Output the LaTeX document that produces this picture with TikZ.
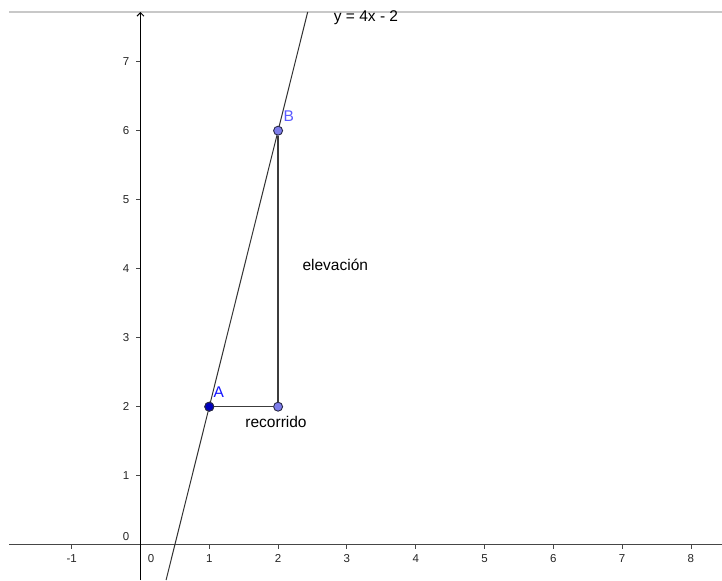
\documentclass[tikz,border=0pt]{standalone}
\usepackage{fontspec}
\setmainfont{Liberation Sans}
\usetikzlibrary{arrows.meta}
\definecolor{axisgray}{RGB}{70,70,70}
\definecolor{framegray}{RGB}{200,200,200}
\definecolor{lightpt}{RGB}{125,125,235}
\definecolor{darkpt}{RGB}{0,0,190}
\definecolor{ptedge}{RGB}{40,40,70}
\definecolor{labA}{RGB}{20,20,255}
\definecolor{labB}{RGB}{90,90,255}
\definecolor{segcol}{RGB}{60,60,60}
\tikzset{
  ticklab/.style={font=\fontsize{11.5}{13}\selectfont, text=black!85, inner sep=0pt},
  lab/.style={font=\fontsize{15.5}{18}\selectfont, inner sep=0pt},
  pt/.style={circle, draw=ptedge, line width=0.9pt, minimum size=9pt, inner sep=0pt},
  tickmark/.style={axisgray, line width=0.8pt},
  seg/.style={segcol, line width=1.4pt}
}
\begin{document}
\begin{tikzpicture}[x=68.8pt,y=69pt]
\useasboundingbox[fill=white] (-2.042,-0.512) rectangle (8.452,7.894);
% top frame line
\coordinate (fl) at (-1.91,7.72);
\coordinate (fr) at (8.452,7.72);
\draw[framegray, line width=1.6pt] (fl) -- (fr);
% axes
\coordinate (xl) at (-1.91,0);
\coordinate (xr) at (8.452,0);
\coordinate (yb) at (0,-0.512);
\coordinate (yt) at (0,7.72);
\draw[axisgray, line width=1.3pt] (xl) -- (xr);
\draw[black, line width=1pt, -{Straight Barb[length=3.5pt,width=7pt]}] (yb) -- (yt);
% ticks x
\foreach \i in {-1,1,2,3,4,5,6,7,8} {
  \coordinate (tx\i) at (\i,0);
  \draw[tickmark] (tx\i) -- ++(0,-4pt);
  \node[ticklab] (lx\i) at (\i,-0.207) {\i};
}
\foreach \i in {1,...,7} {
  \coordinate (ty\i) at (0,\i);
  \draw[tickmark] (ty\i) -- ++(-4pt,0);
  \node[ticklab] (ly\i) at (-0.211,\i) {\i};
}
\node[ticklab] (lx0) at (0.153,-0.2) {0};
\node[ticklab] (ly0) at (-0.211,0.112) {0};
% line y = 4x - 2
\coordinate (L1) at (0.372,-0.512);
\coordinate (L2) at (2.43,7.72);
\draw[black!80, line width=1pt] (L1) -- (L2);
\node[lab, text=black] (eq) at (3.278,7.633) {y = 4x - 2};
% points
\node[pt, fill=darkpt] (A) at (1,2) {};
\node[pt, fill=lightpt] (B) at (2,6) {};
\node[pt, fill=lightpt] (C) at (2,2) {};
\draw[seg] (A) -- (C);
\draw[seg] (C) -- (B);
\node[pt, fill=darkpt] at (A) {};
% labels
\node[lab, text=labA] (la) at (1.137,2.213) {A};
\node[lab, text=labB] (lb) at (2.154,6.216) {B};
\node[lab, text=black] (rec) at (1.97,1.778) {recorrido};
\node[lab, text=black] (elev) at (2.831,4.054) {elevación};
\end{tikzpicture}
\end{document}
